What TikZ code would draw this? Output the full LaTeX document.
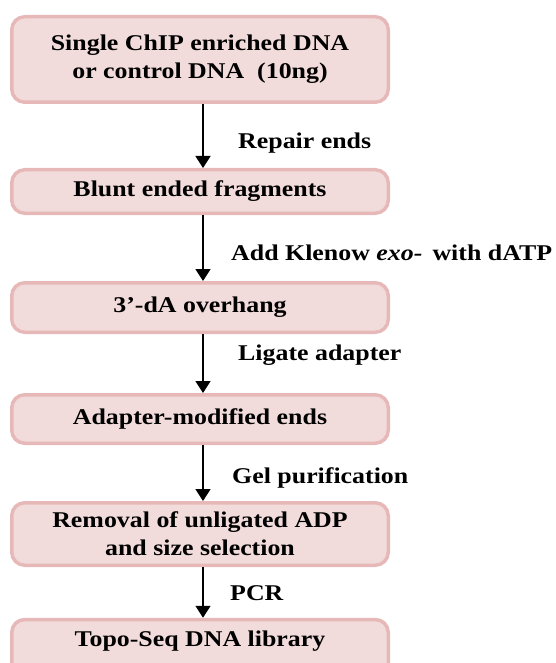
\documentclass[tikz,border=0pt]{standalone}
\usepackage{fontspec}
\setmainfont{Liberation Serif}[FakeStretch=1.15]
\usetikzlibrary{arrows.meta}
\definecolor{boxfill}{HTML}{F2DCDB}
\definecolor{boxline}{HTML}{E6B9B8}
\begin{document}
\begin{tikzpicture}[x=1pt,y=1pt,
  stepbox/.style={draw=boxline, line width=3.5pt, fill=boxfill, rounded corners=13pt,
    minimum width=376.5pt, inner sep=0pt, align=center,
    font=\fontsize{22.5}{28}\selectfont\bfseries},
  boxtext/.style={inner sep=0pt, align=center, font=\fontsize{22.5}{28}\selectfont\bfseries},
  arr/.style={line width=1.6pt, -{Triangle[width=15pt,length=12pt]}},
  lab/.style={anchor=west, inner sep=0pt, font=\fontsize{22.5}{27}\selectfont\bfseries}]
\useasboundingbox (0,0) rectangle (555,-663);
\clip (0,0) rectangle (555,-663);
\node[stepbox, minimum height=85.5pt] (b1) at (200,-59.5) {Single ChIP enriched DNA\\or control DNA\ \ (10ng)};
\node[stepbox, minimum height=43.5pt] (b2) at (200,-191.5) {Blunt ended fragments};
\node[stepbox, minimum height=49.5pt] (b3) at (200,-307.5) {3’-dA overhang};
\node[stepbox, minimum height=48.5pt] (b4) at (200,-419) {Adapter-modified ends};
\node[stepbox, minimum height=62.5pt] (b5) at (200,-534) {Removal of unligated ADP\\and size selection};
\node[stepbox, minimum height=70pt, anchor=north] (b6) at (200,-617.75) {};
\node[boxtext] (t6) at (200,-641) {Topo-Seq DNA library};
\draw[arr] ([xshift=3pt]b1.south) -- ([xshift=3pt]b2.north);
\draw[arr] ([xshift=3pt]b2.south) -- ([xshift=3pt]b3.north);
\draw[arr] ([xshift=3pt]b3.south) -- ([xshift=3pt]b4.north);
\draw[arr] ([xshift=3pt]b4.south) -- ([xshift=3pt]b5.north);
\draw[arr] ([xshift=3pt]b5.south) -- ([xshift=3pt]b6.north);
\node[lab] (l1) at (238,-143) {Repair ends};
\node[lab] (l2) at (231,-253) {Add Klenow \textit{exo-}\hspace{0.45em}with dATP};
\node[lab] (l3) at (238,-355) {Ligate adapter};
\node[lab] (l4) at (232,-478) {Gel purification};
\node[lab] (l5) at (230,-593) {PCR};
\end{tikzpicture}
\end{document}
